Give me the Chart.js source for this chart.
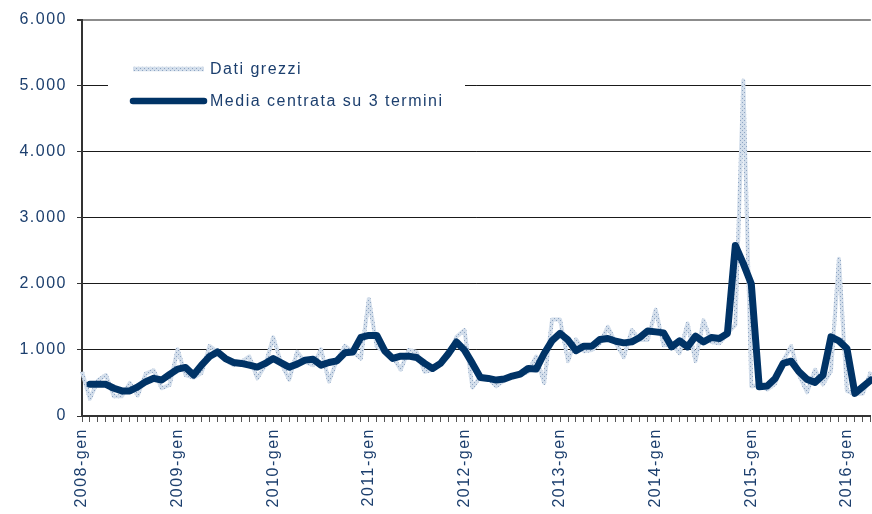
<!DOCTYPE html>
<html>
<head>
<meta charset="utf-8">
<script src="https://cdn.jsdelivr.net/npm/chart.js@4.4.1/dist/chart.umd.min.js"></script>
<style>
  html, body { margin: 0; background: #fff; overflow: hidden; }
  #wrap { width: 872px; height: 514px; overflow: hidden; }
</style>
</head>
<body>
<div id="wrap"><canvas id="canvas" width="896" height="514"></canvas></div>
<script>
const years = [2008, 2009, 2010, 2011, 2012, 2013, 2014, 2015, 2016];
const months = ['gen', 'feb', 'mar', 'apr', 'mag', 'giu', 'lug', 'ago', 'set', 'ott', 'nov', 'dic'];

// monthly raw values, 2008-gen .. 2016-apr
const rawData = [
    670, 260, 540, 620, 300, 300, 500, 310, 640, 690,
    420, 470, 1010, 620, 580, 650, 1060, 970, 850, 770,
    820, 900, 570, 770, 1190, 800, 550, 970, 820, 770,
    1010, 520, 850, 1060, 970, 870, 1770, 1050, 970, 900,
    700, 1000, 970, 670, 700, 800, 900, 1200, 1300, 430,
    600, 570, 450, 540, 600, 630, 670, 900, 500, 1460,
    1460, 830, 1160, 980, 1000, 1100, 1350, 1100, 890, 1300,
    1150, 1150, 1610, 1070, 1100, 950, 1400, 830, 1450, 1120,
    1100, 1250, 1380, 5080, 450, 470, 400, 490, 830, 1060,
    620, 360, 700, 480, 680, 2380, 380, 330, 340, 670
];

// centred 3-term average as drawn
const movingAvg = [
    null, 480, 480, 480, 420, 380, 380, 440, 520, 570,
    545, 630, 710, 735, 620, 770, 900, 970, 870, 810,
    796, 770, 740, 796, 870, 805, 740, 785, 846, 860,
    770, 810, 835, 956, 970, 1190, 1220, 1220, 986, 871,
    906, 906, 886, 796, 720, 796, 946, 1120, 997, 796,
    584, 569, 544, 559, 604, 634, 720, 710, 946, 1140,
    1250, 1150, 990, 1057, 1057, 1158, 1173, 1132, 1107, 1122,
    1188, 1288, 1273, 1258, 1047, 1137, 1047, 1208, 1122, 1188,
    1173, 1248, 2582, 2306, 2000, 443, 453, 569, 796, 830,
    669, 554, 509, 619, 1198, 1137, 1022, 342, 443, 544
];

const yTicks = [0, 1000, 2000, 3000, 4000, 5000, 6000];

const textColor = '#1c3f6e';
const navy = '#003366';

var labels = [];
years.forEach(y => months.forEach(m => labels.push(y + '-' + m)));
labels = labels.slice(0, rawData.length);

var ctx = document.getElementById('canvas').getContext('2d');

// light dotted fill used by the raw series
function dotPattern() {
    var c = document.createElement('canvas');
    c.width = 4;
    c.height = 4;
    var p = c.getContext('2d');
    p.fillStyle = '#d3deeb';
    p.fillRect(0, 0, 4, 4);
    p.fillStyle = '#8da4c2';
    p.fillRect(0, 0, 1, 1);
    p.fillRect(2, 2, 1, 1);
    return ctx.createPattern(c, 'repeat');
}

const spacing = {
    id: 'spacing',
    beforeDraw(chart) {
        chart.ctx.letterSpacing = '1.5px';
    }
};

// legend sits inside the plot, on a white box
const boxLegend = {
    id: 'boxLegend',
    beforeDatasetsDraw(chart) {
        const c = chart.ctx;
        c.save();
        c.fillStyle = '#fff';
        c.fillRect(108, 47, 357, 76);
        chart.data.datasets.forEach((ds, i) => {
            const y = 69 + i * 32;
            c.beginPath();
            c.moveTo(133, y);
            c.lineTo(204, y);
            c.strokeStyle = ds.borderColor;
            c.lineWidth = i ? 6.5 : 4.5;
            c.lineCap = i ? 'round' : 'butt';
            c.stroke();
            c.fillStyle = textColor;
            c.font = '16px "Liberation Sans", Arial, sans-serif';
            c.textBaseline = 'middle';
            c.textAlign = 'left';
            c.fillText(ds.label, 210, y + 1);
        });
        c.restore();
    }
};

Chart.defaults.font.family = '"Liberation Sans", Arial, sans-serif';
Chart.defaults.font.size = 16;

window.myLine = new Chart(ctx, {
    type: 'line',
    data: {
        labels: labels,
        datasets: [{
            label: 'Dati grezzi',
            data: rawData,
            borderColor: dotPattern(),
            borderWidth: 4,
            borderJoinStyle: 'round',
            pointRadius: 0,
            tension: 0,
            fill: false,
            order: 1
        },
        {
            label: 'Media centrata su 3 termini',
            data: movingAvg,
            borderColor: navy,
            borderWidth: 7,
            borderJoinStyle: 'round',
            borderCapStyle: 'round',
            pointRadius: 0,
            tension: 0,
            fill: false,
            order: 0
        }]
    },
    options: {
        responsive: false,
        animation: false,
        layout: { padding: { top: 19, right: 0, left: 0, bottom: 0 } },
        plugins: {
            legend: { display: false },
            tooltip: { enabled: false },
            title: { display: false }
        },
        scales: {
            x: {
                grid: { drawOnChartArea: false, drawTicks: true, tickLength: 6, color: '#555' },
                border: { color: '#333', width: 2 },
                ticks: {
                    autoSkip: false,
                    maxRotation: 90,
                    minRotation: 90,
                    padding: 6,
                    color: textColor,
                    callback: function (v) {
                        var l = this.getLabelForValue(v);
                        return l.endsWith('-gen') ? l : '';
                    }
                },
                afterFit: s => { s.height = 98; }
            },
            y: {
                min: 0,
                max: 6000,
                afterBuildTicks: s => { s.ticks = yTicks.map(v => ({ value: v })); },
                grid: {
                    color: c => (c.tick && c.tick.value === 6000) ? '#8c8c8c' : '#1a1a1a',
                    lineWidth: c => (c.tick && c.tick.value === 6000) ? 2 : 1,
                    tickLength: 5,
                    tickColor: '#333'
                },
                border: { color: '#333', width: 2 },
                ticks: {
                    padding: 10,
                    color: textColor,
                    callback: v => v === 0 ? '0' : (v / 1000) + '.000'
                },
                afterFit: s => { s.width = 82; }
            }
        }
    },
    plugins: [spacing, boxLegend]
});
</script>
</body>
</html>
